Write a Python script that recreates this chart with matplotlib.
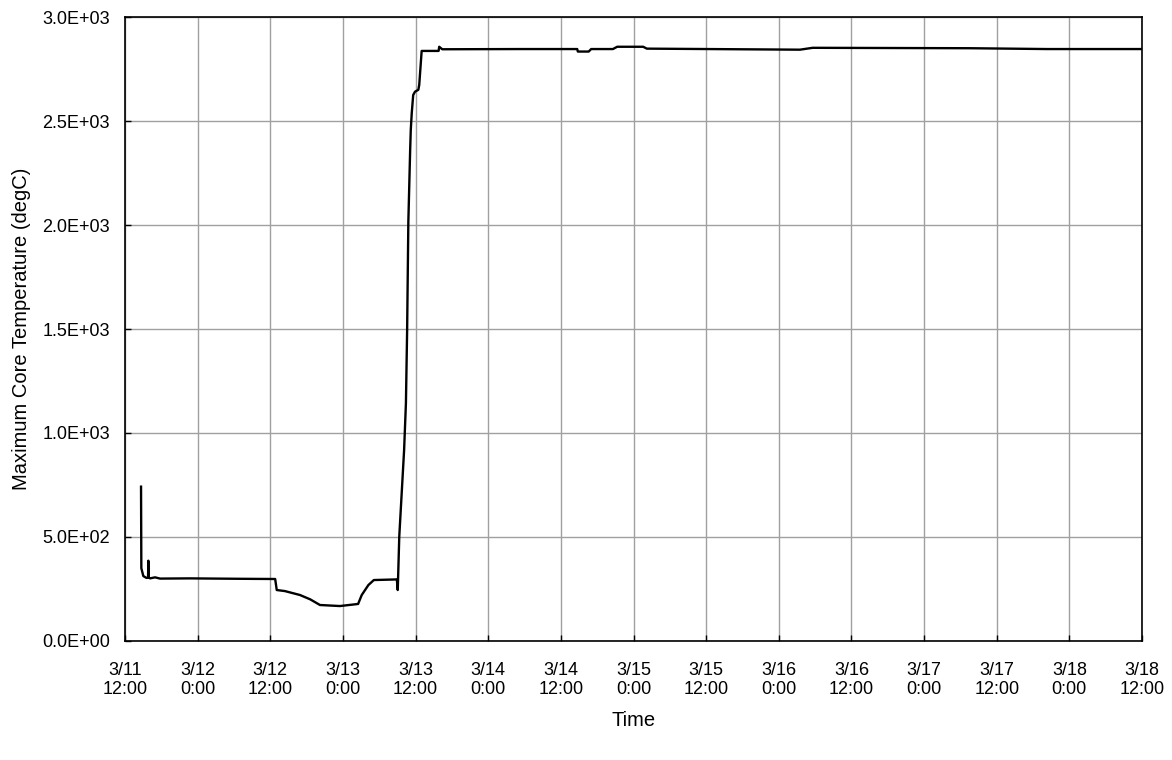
import matplotlib.pyplot as plt
from matplotlib.ticker import FuncFormatter

plt.rcParams['font.family'] = ['Liberation Sans', 'DejaVu Sans']

# hours after 3/11 12:00, max core temperature (degC)
hours = [2.64, 2.69, 3.02, 3.55, 3.80, 3.85, 3.93, 4.13, 4.96, 5.78, 10.7, 19.0,
         24.8, 25.06, 26.4, 28.9, 30.6, 32.2, 35.5, 38.5, 39.1, 40.2, 41.1,
         44.9, 45.05, 45.3, 46.1, 46.4, 46.6, 46.8, 47.1, 47.2, 47.36, 47.6,
         47.9, 48.45, 48.6, 49.0, 51.8, 51.9, 52.4, 65.2, 74.7, 74.8, 76.6,
         77.0, 80.6, 81.3, 85.6, 86.2, 111.5, 113.6, 139.6, 152.3, 168.0]
temp = [742, 350, 312, 303, 305, 386, 305, 301, 306, 300, 301, 299,
        298, 245, 240, 221, 200, 173, 168, 178, 221, 269, 293,
        296, 245, 502, 918, 1143, 1495, 2016, 2361, 2457, 2537, 2625,
        2641, 2650, 2674, 2837, 2837, 2857, 2845, 2846, 2846, 2834, 2834,
        2846, 2846, 2857, 2857, 2848, 2843, 2852, 2850, 2846, 2846]

tick_labels = ["3/11\n12:00", "3/12\n0:00", "3/12\n12:00", "3/13\n0:00", "3/13\n12:00",
               "3/14\n0:00", "3/14\n12:00", "3/15\n0:00", "3/15\n12:00", "3/16\n0:00",
               "3/16\n12:00", "3/17\n0:00", "3/17\n12:00", "3/18\n0:00", "3/18\n12:00"]
tick_hours = [12 * i for i in range(len(tick_labels))]

fig = plt.figure(figsize=(11.72, 7.60), dpi=100)
ax = fig.add_axes([0.1067, 0.1566, 0.8677, 0.821])

ax.plot(hours, temp, color="black", linewidth=1.7)

ax.set_xlim(0, 168)
ax.set_ylim(0, 3000)
ax.set_xticks(tick_hours)
ax.set_xticklabels(tick_labels)
ax.set_yticks(range(0, 3001, 500))
ax.yaxis.set_major_formatter(FuncFormatter(lambda v, p: f"{v:.1E}"))

ax.grid(True, color="#a0a0a0", linewidth=1)
ax.set_axisbelow(True)
ax.tick_params(direction="in", length=4.5, width=1, labelsize=13)
ax.tick_params(axis="y", pad=11)
ax.tick_params(axis="x", pad=15)
for s in ax.spines.values():
    s.set_linewidth(1.2)

ax.set_ylabel("Maximum Core Temperature (degC)", fontsize=14.5, labelpad=8)
ax.set_xlabel("Time", fontsize=14.5, labelpad=9)

fig.savefig("out.png", dpi=100)
